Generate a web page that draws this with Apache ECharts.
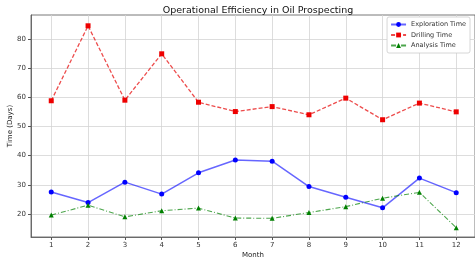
<!DOCTYPE html>
<html><head><meta charset="utf-8">
<script src="https://cdn.jsdelivr.net/npm/echarts@6/dist/echarts.min.js"></script>
<style>html,body{margin:0;padding:0;background:#fff}#c{width:475px;height:261px}</style>
</head><body><div id="c"></div>
<script>
const months = [1,2,3,4,5,6,7,8,9,10,11,12];
const exploration = [27.5,23.9,30.9,26.8,34.1,38.5,38.1,29.4,25.7,22.1,32.3,27.3];
const drilling = [58.8,84.5,59.0,74.9,58.3,55.1,56.8,54.0,59.7,52.3,58.0,55.0];
const analysis = [19.6,23.0,19.0,21.1,22.0,18.6,18.5,20.5,22.5,25.4,27.4,15.3];
const yTicks = [20,30,40,50,60,70,80];
const xTicks = months;

const pair = (arr) => months.map((m,i)=>[m,arr[i]]);
const font = 'DejaVu Sans';
const chart = echarts.init(document.getElementById('c'), null, {renderer:'canvas'});
chart.setOption({
  animation:false,
  title:{text:'Operational Efficiency in Oil Prospecting',left:253,textAlign:'center',top:1,
    textStyle:{fontFamily:font,fontSize:9.5,fontWeight:'normal',color:'#111'}},
  grid:{left:31,right:0,top:15,bottom:24,outerBoundsMode:'none',containLabel:false,show:true,borderColor:'#555',borderWidth:0.8},
  legend:{orient:'vertical',right:5,top:17,itemGap:3.5,itemWidth:15,itemHeight:6,
    padding:[4,4,4,3],borderColor:'#ccc',borderWidth:0.8,borderRadius:2,backgroundColor:'#fff',
    textStyle:{fontFamily:font,fontSize:6.5,color:'#333'}},
  xAxis:{type:'value',min:0.45,max:12.51,name:'Month',nameLocation:'middle',nameGap:15,nameMoveOverlap:false,
    nameTextStyle:{fontFamily:font,fontSize:7,color:'#222'},
    axisLine:{show:true,lineStyle:{color:'#555',width:0.8}},
    axisTick:{show:true,length:3,customValues:xTicks,lineStyle:{color:'#555'}},
    axisLabel:{customValues:xTicks,fontFamily:font,fontSize:7,color:'#333',margin:5},
    splitLine:{show:true,lineStyle:{color:'#d4d4d4',width:0.8}}},
  yAxis:{type:'value',min:12.1,max:88.2,name:'Time (Days)',nameLocation:'middle',nameGap:17,nameMoveOverlap:false,
    nameTextStyle:{fontFamily:font,fontSize:7,color:'#222'},
    axisLine:{show:true,lineStyle:{color:'#555',width:0.8}},
    axisTick:{show:true,length:3,customValues:yTicks,lineStyle:{color:'#555'}},
    axisLabel:{customValues:yTicks,fontFamily:font,fontSize:7,color:'#333',margin:5},
    splitLine:{show:true,lineStyle:{color:'#d4d4d4',width:0.8}}},
  series:[
    {name:'Exploration Time',type:'line',data:pair(exploration),symbol:'circle',symbolSize:5,
      itemStyle:{color:'#0000ff'},lineStyle:{color:'rgba(0,0,255,0.6)',width:1.5,type:'solid'}},
    {name:'Drilling Time',type:'line',data:pair(drilling),symbol:'rect',symbolSize:5,
      itemStyle:{color:'#ee0000'},lineStyle:{color:'rgba(230,0,0,0.7)',width:1.3,type:[4,2]}},
    {name:'Analysis Time',type:'line',data:pair(analysis),symbol:'triangle',symbolSize:5,
      itemStyle:{color:'#008000'},lineStyle:{color:'rgba(0,128,0,0.7)',width:1.1,type:[5,2,1,2]}}
  ]
});
</script></body></html>
